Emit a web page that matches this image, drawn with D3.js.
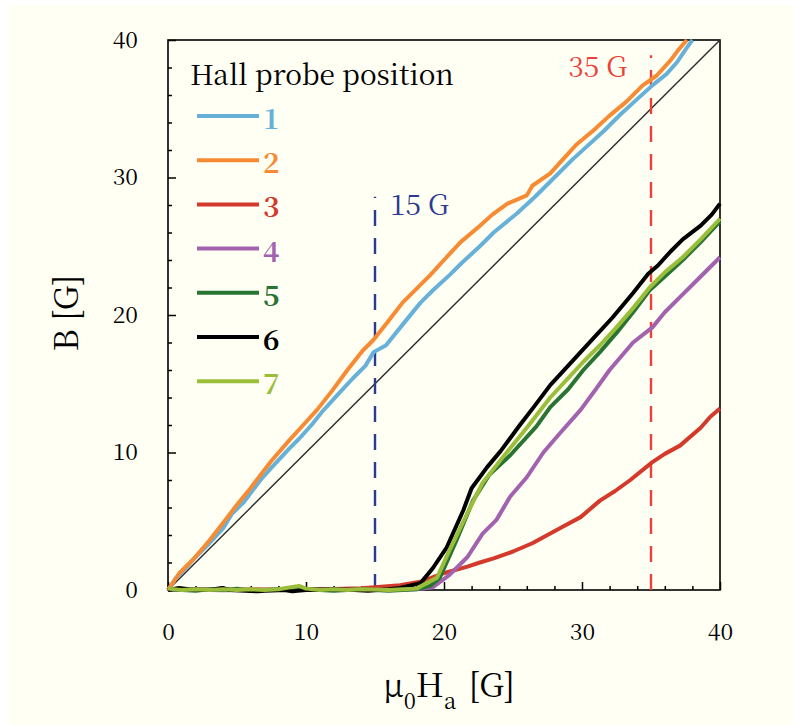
<!DOCTYPE html>
<html>
<head>
<meta charset="utf-8">
<script src="https://cdn.jsdelivr.net/npm/d3@7"></script>
<style>
  body { margin: 0; background: #ffffff; }
  svg { display: block; }
</style>
</head>
<body>
<svg id="chart"></svg>
<script>
// probe positions in the legend
const probes = ["1", "2", "3", "4", "5", "6", "7"];
const colors = ["#67b1d8", "#f78b34", "#d33a2c", "#a362ae", "#2a7433", "#000000", "#9bbe3a"];

// [mu0 Ha, B], one array per probe
const probe1 = [[0,0],[0.6,0.9],[1.2,1.5],[2,2.4],[3,3.4],[4,4.5],[4.6,5.5],[5.5,6.4],[6.7,8.0],[7.5,8.9],[8.8,10.3],[9.5,11.0],[10.4,12.0],[11.2,13.0],[12.2,14.1],[13.4,15.4],[14.3,16.3],[14.9,17.3],[15.8,17.8],[17,19.3],[18.3,20.9],[19.2,21.8],[20.4,22.9],[21.3,23.8],[22.6,25.0],[23.6,26.0],[25.3,27.4],[26.6,28.6],[28.2,30.2],[29.3,31.3],[30.4,32.3],[31.6,33.4],[32.8,34.6],[34,35.7],[35.1,36.7],[36.1,37.5],[36.9,38.4],[37.5,39.3],[38.0,40]];
const probe2 = [[0,0],[0.8,1.2],[1.8,2.2],[3,3.6],[4,4.9],[5,6.2],[5.9,7.3],[6.5,8.1],[7.5,9.4],[8.8,10.9],[9.8,12.0],[10.8,13.1],[11.9,14.5],[13.0,16.0],[14.1,17.4],[14.9,18.2],[16,19.6],[17,20.9],[18,21.9],[19,22.9],[20,24.0],[21.2,25.3],[22.5,26.4],[23.5,27.3],[24.6,28.1],[26.0,28.7],[26.4,29.4],[27.7,30.3],[28.6,31.3],[29.6,32.4],[30.8,33.4],[32.0,34.5],[33.2,35.5],[34.4,36.7],[35.4,37.4],[36.4,38.5],[37.0,39.3],[37.6,40]];
const probe3 = [[0,0],[2,0.05],[4,0],[6,0.05],[8,0.02],[10,0.05],[12,0.08],[14,0.12],[15,0.2],[16.8,0.35],[18.3,0.6],[19.9,1.2],[21.7,1.7],[22.6,2.0],[23.6,2.3],[25,2.8],[26.4,3.4],[27.5,4.0],[28.6,4.6],[29.9,5.3],[31.3,6.5],[32.4,7.2],[33.5,8.0],[35.1,9.3],[36,9.9],[37.1,10.5],[38.6,11.8],[39.3,12.6],[40,13.2]];
const probe4 = [[0,0],[2,0.02],[4,-0.02],[6,0],[8,0.02],[10,0],[12,0.02],[14,0],[16,0.02],[18,0.05],[19.2,0.2],[20.4,1.1],[21.7,2.4],[22.8,4.1],[23.8,5.1],[24.8,6.8],[26.0,8.2],[27.2,10.0],[28.4,11.4],[29.9,13.1],[31,14.6],[32.0,16.0],[33.7,18.0],[35.1,19.1],[36,20.2],[37.1,21.3],[38.6,22.8],[40,24.2]];
const probe5 = [[0,0.05],[1,0],[2,-0.05],[3,0.05],[4,0],[5,0.1],[6,-0.05],[7,0],[8,0.05],[9,-0.05],[10,0.1],[11,0],[12,-0.05],[13,0],[14,0.05],[15,0],[16,-0.05],[17,0],[18,0.05],[19,0.3],[19.7,0.9],[20.9,3.6],[22.1,6.5],[23.3,8.4],[24.8,9.8],[26.7,11.9],[27.7,13.3],[29,14.6],[30.1,16.0],[31.3,17.3],[32.5,18.7],[33.7,20.2],[34.9,21.8],[36,22.8],[37.3,24.0],[38.6,25.3],[40,26.8]];
const probe6 = [[0,0],[0.8,0.15],[1.5,0.05],[3,0],[3.9,0.15],[4.5,0],[6.5,-0.1],[7,-0.05],[8.5,0],[9,-0.1],[10,0],[12,0.05],[13.5,0],[14.5,-0.05],[16,0.05],[16.8,0.15],[18.3,0.5],[19.2,1.6],[20.2,3.1],[21.4,5.8],[22,7.4],[23.1,8.9],[24.1,10.1],[25.5,12.0],[26.5,13.3],[27.7,14.9],[28.8,16.1],[29.9,17.3],[31,18.5],[32.2,19.8],[33.7,21.6],[34.8,23.0],[35.5,23.6],[36.4,24.6],[37.3,25.5],[38.6,26.5],[39.4,27.3],[40,28.1]];
const probe7 = [[0,0.1],[1,0],[2,0.05],[3,0],[4,0.05],[5,0],[6,0.05],[7,0],[8,0.05],[9.5,0.3],[10,0.1],[11,0],[12,0.05],[13,0],[14,0.05],[16,0],[17,0.05],[18,0.1],[19.5,0.9],[20.4,2.9],[21.7,5.6],[22.8,7.8],[24.3,9.7],[26,11.8],[27.7,14.0],[28.9,15.3],[30.1,16.6],[31.3,17.8],[32.5,19.1],[33.7,20.5],[34.9,22.0],[36,23.1],[37.3,24.2],[38.6,25.5],[40,27.0]];
const series = [probe1, probe2, probe3, probe4, probe5, probe6, probe7];

// axis ticks and marker lines
const majorTicks = [0, 10, 20, 30, 40];
const minorTicks = [2, 4, 6, 8, 12, 14, 16, 18, 22, 24, 26, 28, 32, 34, 36, 38];
const markers = [{ x: 15, top: 28.6, label: "15 G", color: "#2c3a92" },
                 { x: 35, top: 38.9, label: "35 G", color: "#ef4038" }];

var wtot = 793, htot = 725;
var margin = { top: 40, right: 73, bottom: 135, left: 168 },
    width = wtot - margin.left - margin.right,
    height = htot - margin.top - margin.bottom;
var serif = '"Noto Serif CJK SC", "Liberation Serif", serif';

const svg = d3.select("#chart")
    .attr("width", wtot)
    .attr("height", htot);

// cream page
svg.append("rect")
    .attr("x", 9).attr("y", 5)
    .attr("width", wtot).attr("height", htot)
    .attr("rx", 6)
    .attr("fill", "#fffff3");

const xScale = d3.scaleLinear([0, 40], [margin.left, margin.left + width]);
const yScale = d3.scaleLinear([0, 40], [margin.top + height, margin.top]);

// minor ticks
svg.append("g")
    .attr("transform", `translate(0,${yScale(0)})`)
    .call(d3.axisBottom(xScale).tickValues(minorTicks).tickSize(-4).tickFormat(""))
    .call(g => g.select(".domain").remove());
svg.append("g")
    .attr("transform", `translate(${xScale(0)},0)`)
    .call(d3.axisLeft(yScale).tickValues(minorTicks).tickSize(-4).tickFormat(""))
    .call(g => g.select(".domain").remove());

// major ticks + labels
svg.append("g")
    .attr("transform", `translate(0,${yScale(0)})`)
    .call(d3.axisBottom(xScale).tickValues(majorTicks).tickSize(-8).tickPadding(34))
    .call(g => g.select(".domain").remove());
svg.append("g")
    .attr("transform", `translate(${xScale(0)},0)`)
    .call(d3.axisLeft(yScale).tickValues(majorTicks).tickSize(-8).tickPadding(30))
    .call(g => g.select(".domain").remove());
svg.selectAll(".tick line").attr("stroke-width", 1.5);
svg.selectAll(".tick text").style("font-size", "23px");

// frame
svg.append("rect")
    .attr("x", xScale(0)).attr("y", yScale(40))
    .attr("width", xScale(40) - xScale(0))
    .attr("height", yScale(0) - yScale(40))
    .attr("fill", "none")
    .attr("stroke", "#000")
    .attr("stroke-width", 1.6);

// B = mu0 Ha reference line
svg.append("line")
    .attr("x1", xScale(0)).attr("y1", yScale(0))
    .attr("x2", xScale(40)).attr("y2", yScale(40))
    .attr("stroke", "#2a2a2a")
    .attr("stroke-width", 1.4);

// dashed field markers
svg.append("g").selectAll("line")
    .data(markers)
    .join("line")
    .attr("x1", d => xScale(d.x)).attr("x2", d => xScale(d.x))
    .attr("y1", yScale(0)).attr("y2", d => yScale(d.top))
    .attr("stroke", d => d.color)
    .attr("stroke-width", 2.4)
    .attr("stroke-dasharray", "16,12");

svg.append("text")
    .attr("x", xScale(15) + 15).attr("y", 215)
    .attr("fill", markers[0].color)
    .style("font-size", "28px")
    .text(markers[0].label);
svg.append("text")
    .attr("x", xScale(35) - 24).attr("y", 77)
    .attr("text-anchor", "end")
    .attr("fill", markers[1].color)
    .style("font-size", "28px")
    .text(markers[1].label);

// data lines
const line = d3.line()
    .x(d => xScale(d[0]))
    .y(d => yScale(d[1]));

svg.append("g")
    .attr("fill", "none")
    .attr("stroke-width", 4)
    .attr("stroke-linejoin", "round")
    .selectAll("path")
    .data(series)
    .join("path")
    .attr("stroke", (d, i) => colors[i])
    .attr("d", line);

// legend
const legend = svg.append("g");
legend.append("text")
    .attr("x", 190).attr("y", 85)
    .style("font-size", "28px")
    .text("Hall probe position");

const item = legend.selectAll("g.item")
    .data(probes)
    .join("g")
    .attr("class", "item")
    .attr("transform", (d, i) => `translate(197,${116 + i * 44.2})`);
item.append("line")
    .attr("x1", 0).attr("x2", 62)
    .attr("stroke", (d, i) => colors[i])
    .attr("stroke-width", 4);
item.append("text")
    .attr("x", 66).attr("y", 13)
    .attr("fill", (d, i) => colors[i])
    .style("font-size", "28px")
    .style("font-weight", "bold")
    .text(d => d);

// axis titles
const xt = svg.append("text")
    .attr("x", 383).attr("y", 697)
    .style("font-size", "33px");
xt.append("tspan").text("\u03bc");
xt.append("tspan").attr("dy", 12).style("font-size", "22px").text("0");
xt.append("tspan").attr("dy", -12).text("H");
xt.append("tspan").attr("dy", 12).style("font-size", "22px").text("a");
xt.append("tspan").attr("dy", -12).attr("dx", 4).text(" [G]");

svg.append("text")
    .attr("transform", "translate(78,313) rotate(-90)")
    .attr("text-anchor", "middle")
    .style("font-size", "33px")
    .text("B [G]");

// serif everywhere, set as style so it wins over the axis attribute
svg.selectAll("text").style("font-family", serif);
</script>
</body>
</html>
